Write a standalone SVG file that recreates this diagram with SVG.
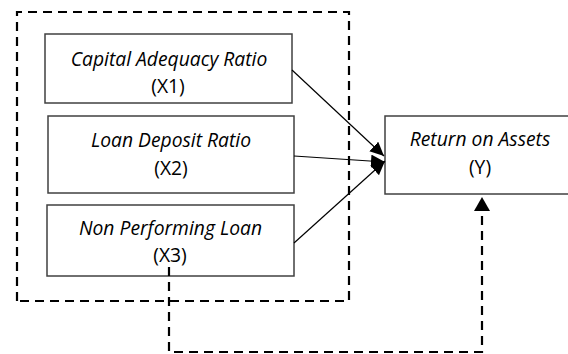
<svg xmlns="http://www.w3.org/2000/svg" width="568" height="354" viewBox="0 0 568 354">
  <style>
    .box { fill: #ffffff; stroke: #404040; stroke-width: 1.5; }
    .frame { fill: none; stroke: #000000; stroke-width: 2.2; stroke-dasharray: 9 6; }
    .link { fill: none; stroke: #000000; stroke-width: 1.2; }
    .dlink { fill: none; stroke: #000000; stroke-width: 2.2; stroke-dasharray: 9 6; }
    .name { font-family: "Open Sans", "Noto Sans", sans-serif; font-style: italic; font-size: 19.3px; fill: #000000; text-anchor: middle; }
    .code { font-family: "Open Sans", "Noto Sans", sans-serif; font-size: 19.3px; fill: #000000; text-anchor: middle; }
  </style>
  <defs>
    <marker id="head" markerUnits="userSpaceOnUse" markerWidth="16" markerHeight="14" refX="14" refY="6.5" orient="auto">
      <path d="M0,0 L14,6.5 L0,13 Z" fill="#000000"/>
    </marker>
    <marker id="headBig" markerUnits="userSpaceOnUse" markerWidth="16" markerHeight="18" refX="14" refY="8" orient="auto">
      <path d="M0,0 L14,8 L0,16 Z" fill="#000000"/>
    </marker>
  </defs>

  <rect width="568" height="354" fill="#ffffff"/>

  <!-- dashed grouping frame around the independent variables -->
  <path class="frame" d="M17,301 L17,12 L349,12 L349,301 Z"/>

  <g id="x1">
    <rect class="box" x="45" y="34" width="247" height="69"/>
    <text class="name" x="169" y="66">Capital Adequacy Ratio</text>
    <text class="code" x="168" y="93">(X1)</text>
  </g>

  <g id="x2">
    <rect class="box" x="48" y="116" width="246" height="77"/>
    <text class="name" x="171" y="147">Loan Deposit Ratio</text>
    <text class="code" x="171" y="175">(X2)</text>
  </g>

  <g id="x3">
    <rect class="box" x="47" y="205" width="247" height="71"/>
    <text class="name" x="170.5" y="235">Non Performing Loan</text>
    <text class="code" x="170" y="262">(X3)</text>
  </g>

  <g id="y">
    <rect class="box" x="385" y="116" width="200" height="78"/>
    <text class="name" x="480" y="146">Return on Assets</text>
    <text class="code" x="480" y="174">(Y)</text>
  </g>

  <g id="connectors">
    <line class="link" x1="292" y1="70" x2="384" y2="156" marker-end="url(#head)"/>
    <line class="link" x1="294" y1="156" x2="385" y2="162" marker-end="url(#head)"/>
    <line class="link" x1="294" y1="243" x2="385" y2="161" marker-end="url(#head)"/>
    <path class="dlink" d="M169,267 L169,352 L482,352 L482,197" marker-end="url(#headBig)"/>
  </g>
</svg>
